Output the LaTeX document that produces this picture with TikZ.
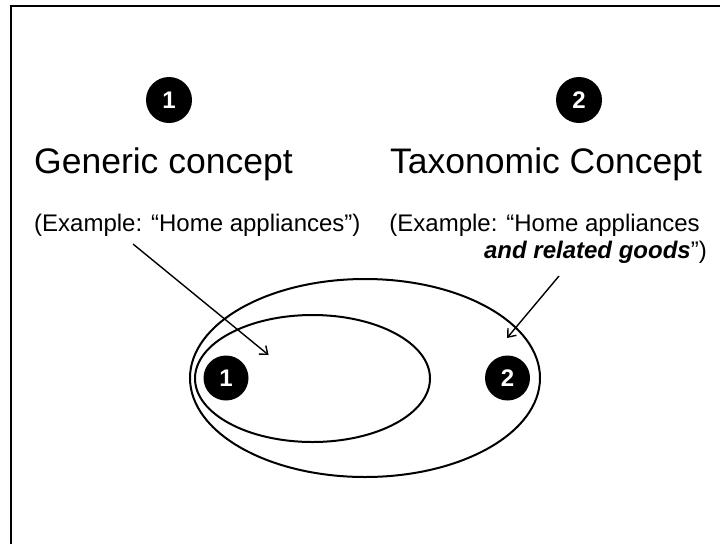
\documentclass[tikz,border=0pt]{standalone}
\usepackage{fontspec}
\setmainfont{Liberation Sans}
\usepackage{tikz}
\usetikzlibrary{arrows.meta,shapes.geometric}
\tikzset{
numdot/.style = {circle, fill=black, text=white, minimum size=#1,
              inner sep=0pt, outer sep=0pt, font=\fontsize{24}{24}\selectfont\bfseries},
numdot/.default = 46pt % diameter of the numbered circle
}
\tikzset{
title/.style = {inner sep=0pt, font=\fontsize{35.5}{40}\selectfont},
example/.style = {inner sep=0pt, font=\fontsize{24}{27}\selectfont}
}
\tikzset{
set/.style = {ellipse, draw=black, line width=2pt, inner sep=0pt,
              minimum width=#1},
set/.default = 1cm, % width of the ellipse
pointer/.style = {line width=1.4pt, -{Straight Barb[length=7pt,width=11pt]}}
}

\begin{document}
\begin{tikzpicture}[x=1pt, y=-1pt]
    \useasboundingbox (0,0) rectangle (720,544);
    \coordinate (frameBL) at (11,544);
    \coordinate (frameTR) at (720,5.5);
    \draw[line width=2pt] (frameBL) |- (frameTR);

    \node[numdot] (dotA) at (169,100) {1};
    \node[numdot] (dotB) at (579,100) {2};
    \node[title, anchor=base west] (genTitle) at (34,173) {Generic concept};
    \node[title, anchor=base west] (taxTitle) at (390,173) {Taxonomic Concept};
    \node[example, anchor=base west] (genEx) at (34,231) {(Example: “Home appliances”)};
    \node[example, anchor=base east] (taxEx) at (700,231) {(Example: “Home appliances};
    \node[example, anchor=base east] (taxExTwo) at (707,258) {\textbf{\textit{and related goods}}”)};

    \node[set=350pt, minimum height=198pt] (taxSet) at (365,378) {};
    \node[set=235pt, minimum height=127pt] (genSet) at (312.5,378.5) {};
    \node[numdot=45pt] (inDotA) at (226,378) {1};
    \node[numdot=45pt] (inDotB) at (507.5,378) {2};

    \coordinate (genTail) at (133,244);
    \coordinate (genHead) at (268.6,355);
    \coordinate (taxTail) at (559,276);
    \coordinate (taxHead) at (507,338);
    \draw[pointer] (genTail) -- (genHead);
    \draw[pointer] (taxTail) -- (taxHead);
\end{tikzpicture}
\end{document}
